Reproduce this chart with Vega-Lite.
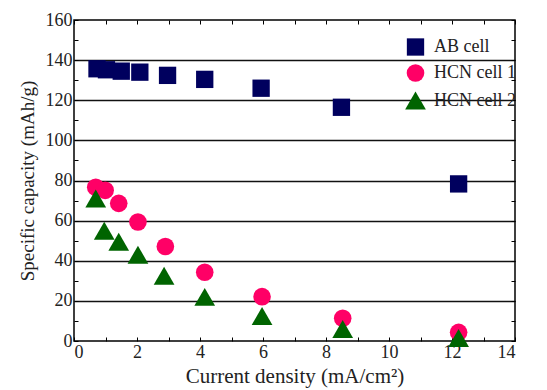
{
  "$schema": "https://vega.github.io/schema/vega-lite/v6.json",
  "width": 441,
  "height": 321,
  "autosize": {"type": "none"},
  "padding": {"left": 74, "top": 20, "right": 32, "bottom": 49},
  "background": "white",
  "config": {
    "view": {"stroke": "#000", "strokeWidth": 1.5},
    "font": "Liberation Serif"
  },
  "data": {
    "values": [
      {"x": 0.73, "y": 135.7, "series": "AB cell"},
      {"x": 1.03, "y": 135.2, "series": "AB cell"},
      {"x": 1.5, "y": 134.5, "series": "AB cell"},
      {"x": 2.09, "y": 134, "series": "AB cell"},
      {"x": 2.97, "y": 132.4, "series": "AB cell"},
      {"x": 4.15, "y": 130.4, "series": "AB cell"},
      {"x": 5.94, "y": 126, "series": "AB cell"},
      {"x": 8.49, "y": 116.5, "series": "AB cell"},
      {"x": 12.21, "y": 78.3, "series": "AB cell"},
      {"x": 0.69, "y": 76.6, "series": "HCN cell 1"},
      {"x": 0.99, "y": 75.1, "series": "HCN cell 1"},
      {"x": 1.42, "y": 68.6, "series": "HCN cell 1"},
      {"x": 2.03, "y": 59.3, "series": "HCN cell 1"},
      {"x": 2.9, "y": 47.1, "series": "HCN cell 1"},
      {"x": 4.15, "y": 34.3, "series": "HCN cell 1"},
      {"x": 5.97, "y": 22.1, "series": "HCN cell 1"},
      {"x": 8.53, "y": 11.3, "series": "HCN cell 1"},
      {"x": 12.21, "y": 4.3, "series": "HCN cell 1"},
      {"x": 0.69, "y": 71, "series": "HCN cell 2"},
      {"x": 0.96, "y": 55, "series": "HCN cell 2"},
      {"x": 1.42, "y": 49.5, "series": "HCN cell 2"},
      {"x": 2.03, "y": 43, "series": "HCN cell 2"},
      {"x": 2.86, "y": 32.5, "series": "HCN cell 2"},
      {"x": 4.15, "y": 22, "series": "HCN cell 2"},
      {"x": 5.97, "y": 12.5, "series": "HCN cell 2"},
      {"x": 8.53, "y": 6, "series": "HCN cell 2"},
      {"x": 12.21, "y": 1.5, "series": "HCN cell 2"}
    ]
  },
  "resolve": {"axis": {"x": "independent", "y": "independent"}},
  "layer": [
    {
      "mark": {"type": "point", "filled": true, "opacity": 1},
      "encoding": {
        "x": {
          "field": "x", "type": "quantitative",
          "scale": {"domain": [0, 14], "nice": false, "zero": false},
          "axis": {
            "values": [0,1,2,3,4,5,6,7,8,9,10,11,12,13,14],
            "labelExpr": "datum.value % 2 === 0 ? datum.label : ''",
            "labelFontSize": {"condition": {"test": "datum.value % 2 !== 0", "value": 0}, "value": 18},
            "grid": false, "tickSize": -4, "tickColor": "#000", "tickWidth": 1,
            "domain": false, "labelColor": "#222", "labelPadding": 6,
            "labelFont": "Liberation Serif",
            "title": "Current density (mA/cm²)", "titleFontSize": 21, "titleFontWeight": "normal",
            "titleColor": "#222", "titlePadding": 4, "titleFont": "Liberation Serif"
          }
        },
        "y": {
          "field": "y", "type": "quantitative",
          "scale": {"domain": [0, 160], "nice": false},
          "axis": {
            "values": [0,10,20,30,40,50,60,70,80,90,100,110,120,130,140,150,160],
            "labelExpr": "datum.value % 20 === 0 ? datum.label : ''",
            "labelFontSize": {"condition": {"test": "datum.value % 20 !== 0", "value": 0}, "value": 18},
            "grid": true, "gridColor": "#111", "gridWidth": 1.3,
            "gridOpacity": {"condition": {"test": "datum.value % 20 === 0 && datum.value > 0 && datum.value < 160", "value": 1}, "value": 0},
            "tickSize": -4, "tickColor": "#000", "tickWidth": 1,
            "domain": false, "labelColor": "#222", "labelPadding": 6,
            "labelFont": "Liberation Serif",
            "title": "Specific capacity (mAh/g)", "titleFontSize": 19, "titleFontWeight": "normal",
            "titleColor": "#222", "titlePadding": 8, "titleFont": "Liberation Serif"
          }
        },
        "shape": {
          "field": "series", "type": "nominal",
          "scale": {"domain": ["AB cell", "HCN cell 1", "HCN cell 2"], "range": ["square", "circle", "triangle-up"]},
          "legend": null
        },
        "size": {
          "field": "series", "type": "ordinal",
          "scale": {"type": "ordinal", "domain": ["AB cell", "HCN cell 1", "HCN cell 2"], "range": [300, 310, 430]},
          "legend": null
        },
        "color": {
          "field": "series", "type": "nominal",
          "scale": {"domain": ["AB cell", "HCN cell 1", "HCN cell 2"], "range": ["#00005e", "#ff0066", "#006400"]},
          "legend": {
            "title": null, "orient": "none", "legendX": 331, "legendY": 18,
            "labelFontSize": 18, "labelColor": "#222", "labelFont": "Liberation Serif",
            "rowPadding": 8, "labelOffset": 8, "symbolStrokeWidth": 0
          }
        }
      }
    },
    {
      "mark": {"type": "point", "opacity": 0},
      "encoding": {
        "x": {
          "field": "x", "type": "quantitative",
          "axis": {
            "orient": "top", "values": [0,1,2,3,4,5,6,7,8,9,10,11,12,13,14],
            "labels": false, "grid": false, "tickSize": -4, "tickColor": "#000", "domain": false, "title": null
          }
        },
        "y": {
          "field": "y", "type": "quantitative",
          "axis": {
            "orient": "right", "values": [0,10,20,30,40,50,60,70,80,90,100,110,120,130,140,150,160],
            "labels": false, "grid": false, "tickSize": -4, "tickColor": "#000", "domain": false, "title": null
          }
        }
      }
    }
  ]
}
